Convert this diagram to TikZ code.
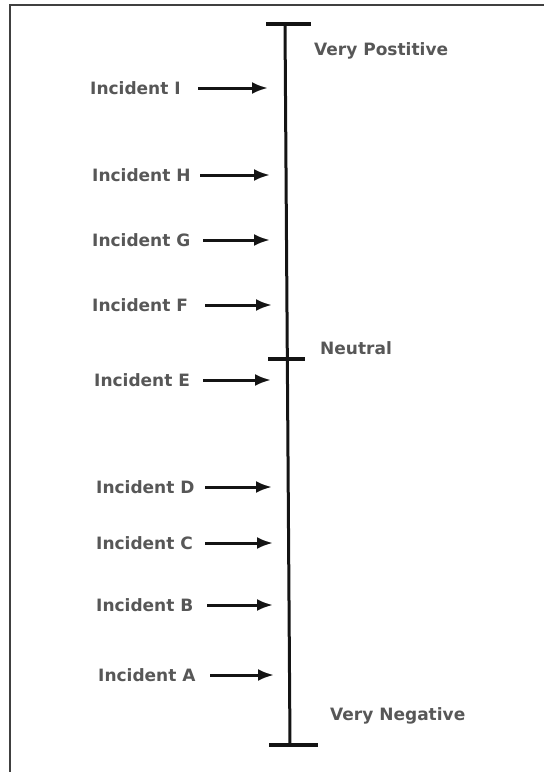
\documentclass[tikz,border=0pt]{standalone}
\usepackage{fontspec}
\setmainfont{DejaVu Sans}
\usetikzlibrary{arrows.meta}
\begin{document}
\begin{tikzpicture}[x=1pt,y=-1pt,
  lbl/.style={inner sep=0pt,text=black!66,font=\fontsize{17}{19}\selectfont\bfseries},
  arr/.style={line width=3pt,draw=black!92,-{Latex[length=16pt,width=12pt]}},
  axisline/.style={line width=3pt,draw=black!92},
  bar/.style={line width=3.4pt,draw=black!92},
  frame/.style={line width=1.8pt,draw=black!75}]
\useasboundingbox (0,0) rectangle (544,772);
% frame
\draw[frame] (10,772) -- (10,5) -- (544,5);
% axis
\coordinate (top) at (285,24);
\coordinate (bot) at (290,745);
\draw[axisline] (top) -- (bot);
\draw[bar] (266,24) -- (311,24);
\draw[bar] (269,745) -- (318,745);
\draw[bar] (268,359) -- (305,359);
% end labels
\node[lbl,anchor=west] (vp) at (314,51) {Very Postitive};
\node[lbl,anchor=west] (neu) at (320,348) {Neutral};
\node[lbl,anchor=west] (vn) at (330,716) {Very Negative};
% incidents
\foreach \n/\tx/\y/\sx/\ex in {I/90/88/198/268, H/92/175/200/270, G/92/240/203/270, F/92/305/205/272, E/94/380/203/271, D/96/487/205/272, C/96/543/205/273, B/96/605/207/273, A/98/675/210/274}{
  \node[lbl,anchor=west] (t\n) at (\tx,\y) {Incident \n};
  \coordinate (s\n) at (\sx,\y);
  \coordinate (e\n) at (\ex,\y);
  \draw[arr] (s\n) -- (e\n);
}
\end{tikzpicture}
\end{document}
